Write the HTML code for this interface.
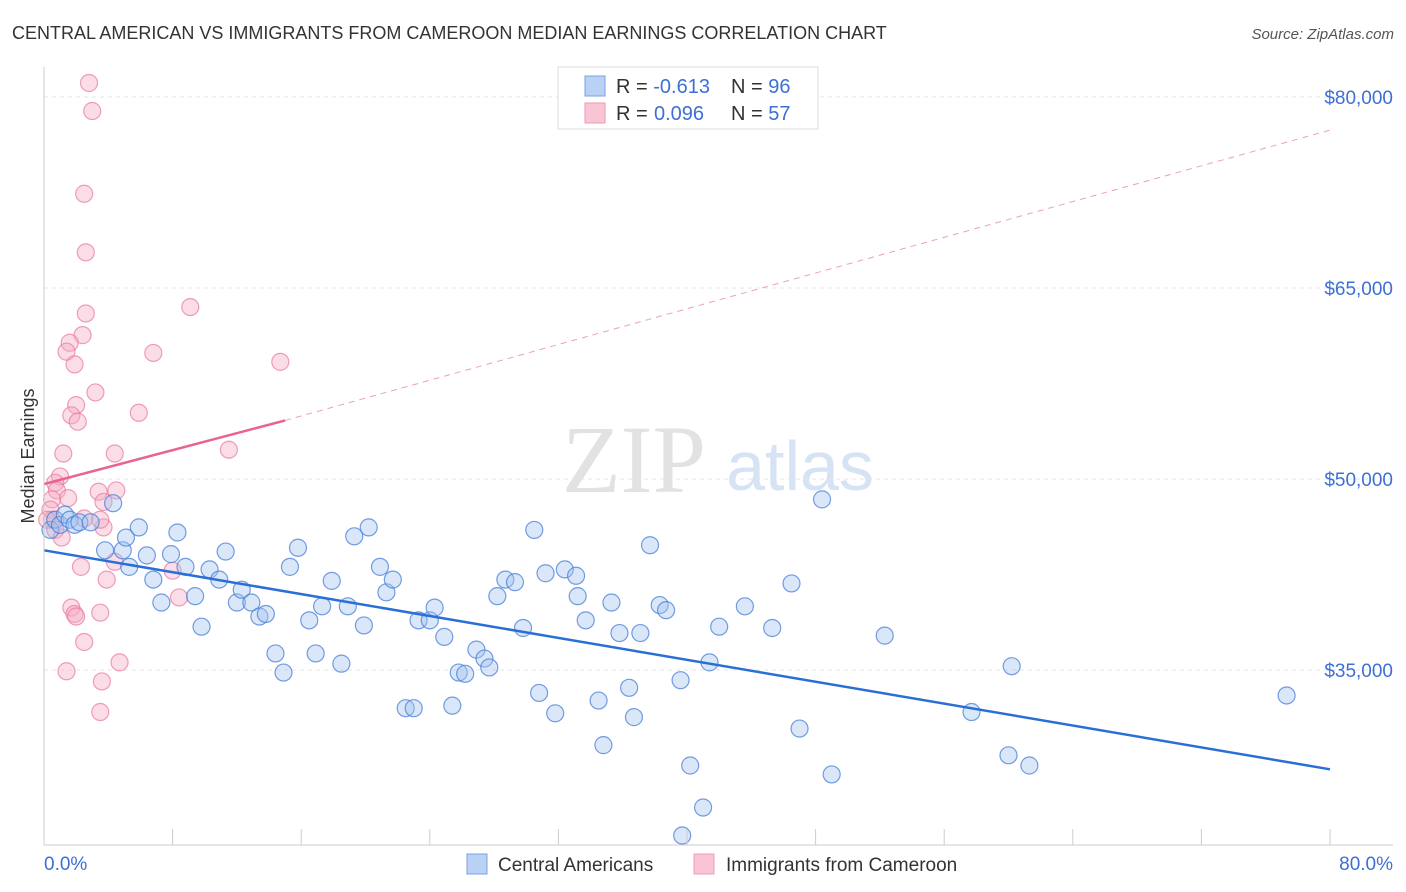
<!DOCTYPE html>
<html><head><meta charset="utf-8">
<style>
body{margin:0;background:#fff;font-family:"Liberation Sans",sans-serif;}
#wrap{position:relative;width:1406px;height:892px;overflow:hidden;}
</style></head>
<body><div id="wrap">
<svg id="svg" width="1406" height="892" xmlns="http://www.w3.org/2000/svg">
<text x="12" y="39" font-size="18" fill="#333">CENTRAL AMERICAN VS IMMIGRANTS FROM CAMEROON MEDIAN EARNINGS CORRELATION CHART</text>
<text x="1394" y="39" font-size="15" fill="#555" font-style="italic" text-anchor="end">Source: ZipAtlas.com</text>
<text x="634" y="492" font-size="96" fill="#e2e2e2" font-family="Liberation Serif" text-anchor="middle">ZIP</text>
<text x="800" y="490" font-size="70" fill="#d6e3f5" text-anchor="middle">atlas</text>
<text transform="translate(34,456) rotate(-90)" font-size="18" fill="#333" text-anchor="middle">Median Earnings</text>
<g id="grid"></g><g id="pts"></g><g id="trend"></g><g id="axes"></g>
<g>
<rect x="558" y="67" width="260" height="62" fill="#fff" stroke="#ddd"/>
<rect x="585" y="76" width="20" height="20" fill="#b9d1f5" stroke="#7aa3e3"/>
<rect x="585" y="103" width="20" height="20" fill="#f9c5d5" stroke="#ee9ab4"/>
<text x="616" y="93" font-size="20" fill="#333">R = <tspan fill="#3d6fd4">-0.613</tspan><tspan x="731">N = </tspan><tspan fill="#3d6fd4">96</tspan></text>
<text x="616" y="120" font-size="20" fill="#333">R = <tspan fill="#3d6fd4" x="654">0.096</tspan><tspan x="731">N = </tspan><tspan fill="#3d6fd4">57</tspan></text>
</g>
<g>
<rect x="467" y="854" width="20" height="20" fill="#b9d1f5" stroke="#7aa3e3"/>
<text x="498" y="871" font-size="19" fill="#333">Central Americans</text>
<rect x="694" y="854" width="20" height="20" fill="#f9c5d5" stroke="#ee9ab4"/>
<text x="726" y="871" font-size="19" fill="#333">Immigrants from Cameroon</text>
</g>
</svg></div>
<script>
const yTicks=[80,65,50,35];
const yTickLabels=["$80,000","$65,000","$50,000","$35,000"];
const xLabels=["0.0%","80.0%"];
const blueX=[0.4,0.7,1.0,1.3,1.6,1.9,2.2,2.9,4.3,3.8,4.9,5.1,5.3,5.9,6.4,6.8,7.3,7.9,8.3,8.8,9.4,9.8,10.3,10.9,11.3,12.0,12.3,12.9,13.4,13.8,14.4,14.9,15.3,15.8,16.5,16.9,17.3,17.9,18.5,18.9,19.3,19.9,20.2,20.9,21.3,21.7,22.5,23.0,23.3,24.0,24.3,24.9,25.4,25.8,26.2,26.9,27.4,27.7,28.2,28.7,29.3,29.8,30.5,30.8,31.2,31.8,32.4,33.1,33.2,33.7,34.5,34.8,35.3,35.8,36.4,36.7,37.1,37.7,38.3,38.7,39.6,40.2,41.0,39.7,41.4,42.0,43.6,45.3,46.5,47.0,48.4,49.0,52.3,57.7,60.2,60.0,61.3,77.3];
const blueY=[46.0,46.8,46.4,47.2,46.8,46.4,46.6,46.6,48.1,44.4,44.4,45.4,43.1,46.2,44.0,42.1,40.3,44.1,45.8,43.1,40.8,38.4,42.9,42.1,44.3,40.3,41.3,40.3,39.2,39.4,36.3,34.8,43.1,44.6,38.9,36.3,40.0,42.0,35.5,40.0,45.5,38.5,46.2,43.1,41.1,42.1,32.0,32.0,38.9,38.9,39.9,37.6,32.2,34.8,34.7,36.6,35.9,35.2,40.8,42.1,41.9,38.3,46.0,33.2,42.6,31.6,42.9,42.4,40.8,38.9,32.6,29.1,40.3,37.9,33.6,31.3,37.9,44.8,40.1,39.7,34.2,27.5,24.2,22.0,35.6,38.4,40.0,38.3,41.8,30.4,48.4,26.8,37.7,31.7,35.3,28.3,27.5,33.0];
const pinkX=[2.8,3.0,2.5,2.6,9.1,2.6,2.4,1.6,1.4,6.8,1.9,14.7,3.2,2.0,5.9,1.7,2.1,11.5,4.4,1.2,1.0,0.7,0.8,3.4,4.5,1.5,3.7,0.5,0.4,0.5,0.7,3.7,2.5,3.5,1.1,4.4,8.0,2.3,3.9,8.4,1.7,1.9,3.5,2.0,2.5,4.7,1.4,3.6,3.5,0.2];
const pinkY=[81.1,78.9,72.4,67.8,63.5,63.0,61.3,60.7,60.0,59.9,59.0,59.2,56.8,55.8,55.2,55.0,54.5,52.3,52.0,52.0,50.2,49.7,49.1,49.0,49.1,48.5,48.2,48.4,47.6,46.8,46.0,46.2,46.9,46.8,45.4,43.5,42.8,43.1,42.1,40.7,39.9,39.4,39.5,39.2,37.2,35.6,34.9,34.1,31.7,46.8];
const blueTrendX=[0,80], blueTrendY=[44.4,27.2];
const pinkTrendX=[0,15,80], pinkTrendY=[49.6,54.6,77.4];

const NS="http://www.w3.org/2000/svg";
const X=v=>44+v/80*1286;
const Y=v=>97+(80-v)/15*191;
function mk(tag,attrs,parent){const e=document.createElementNS(NS,tag);for(const k in attrs)e.setAttribute(k,attrs[k]);parent.appendChild(e);return e;}
const grid=document.getElementById('grid'),axes=document.getElementById('axes'),pts=document.getElementById('pts'),tr=document.getElementById('trend');
yTicks.forEach((t,i)=>{
 const l=mk('line',{x1:44,x2:1393,y1:Y(t),y2:Y(t),stroke:'#e4e4e4','stroke-dasharray':'4,4'},grid);
 
 
 const tx=mk('text',{x:1393,y:Y(t)+7,'font-size':19,fill:'#3d6fd4','text-anchor':'end'},axes);
 tx.textContent=yTickLabels[i];
 
 
});
const ax=mk('line',{x1:44,x2:1393,y1:845,y2:845,stroke:'#ccc'},axes);


const ay=mk('line',{x1:44,x2:44,y1:67,y2:845,stroke:'#ccc'},axes);


for(let i=0;i<=10;i++){const tk=mk('line',{x1:X(i*8),x2:X(i*8),y1:829,y2:845,stroke:'#ccc'},axes);
 
 }
const xl0=mk('text',{x:44,y:870,'font-size':19,fill:'#3d6fd4'},axes);xl0.textContent=xLabels[0];


const xl1=mk('text',{x:1393,y:870,'font-size':19,fill:'#3d6fd4','text-anchor':'end'},axes);xl1.textContent=xLabels[1];


pinkX.forEach((v,i)=>{const c=mk('circle',{cx:X(v),cy:Y(pinkY[i]),r:8.5,fill:'rgba(246,170,195,0.4)',stroke:'rgba(232,120,155,0.7)','stroke-width':1.2},pts);
 
 });
blueX.forEach((v,i)=>{const c=mk('circle',{cx:X(v),cy:Y(blueY[i]),r:8.5,fill:'rgba(160,195,240,0.4)',stroke:'rgba(70,125,215,0.75)','stroke-width':1.2},pts);
 
 });
const bt=mk('line',{x1:X(blueTrendX[0]),y1:Y(blueTrendY[0]),x2:X(blueTrendX[1]),y2:Y(blueTrendY[1]),stroke:'#2a6fd6','stroke-width':2.5},tr);


const pt=mk('line',{x1:X(pinkTrendX[0]),y1:Y(pinkTrendY[0]),x2:X(pinkTrendX[1]),y2:Y(pinkTrendY[1]),stroke:'#e8638f','stroke-width':2.5},tr);


const pd=mk('line',{x1:X(pinkTrendX[1]),y1:Y(pinkTrendY[1]),x2:X(pinkTrendX[2]),y2:Y(pinkTrendY[2]),stroke:'#eba0b8','stroke-width':1,'stroke-dasharray':'6,5'},tr);


</script>
</body></html>
